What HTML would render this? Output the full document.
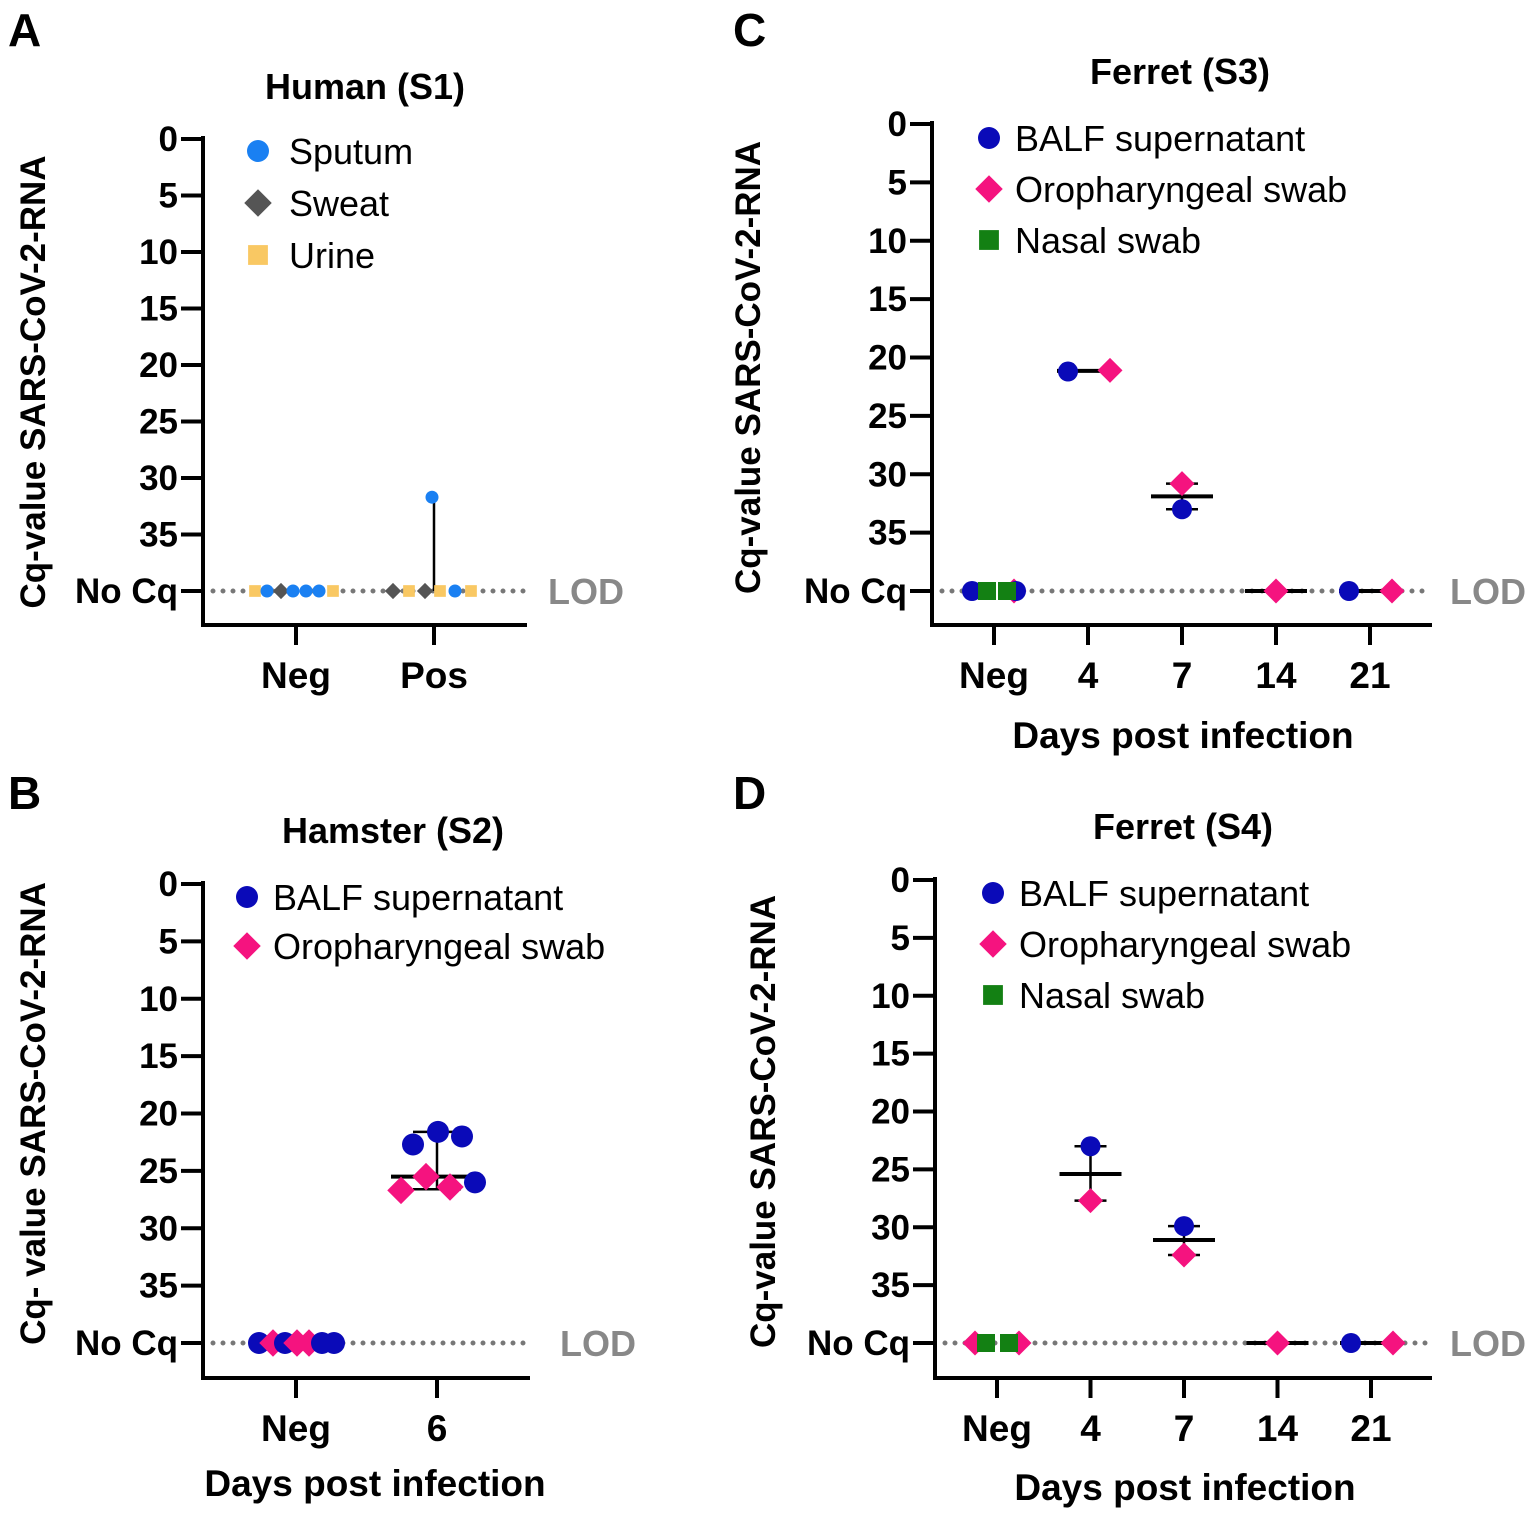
<!DOCTYPE html>
<html><head><meta charset="utf-8">
<style>
body{margin:0;background:#fff;}
svg{display:block;font-family:"Liberation Sans",Arial,sans-serif;}
.b{font-weight:bold;}
</style></head>
<body>
<svg id="fig" width="1535" height="1517" viewBox="0 0 1535 1517">
<text x="8" y="46" font-size="46" class="b">A</text>
<text x="8" y="809" font-size="46" class="b">B</text>
<text x="733" y="46" font-size="46" class="b">C</text>
<text x="733" y="809" font-size="46" class="b">D</text>
</svg>
<script>
// ---- data ----
const yTickLabels = ["0","5","10","15","20","25","30","35","No Cq"];
const yTickValues = [0,5,10,15,20,25,30,35,40];
// Panel A
const aCats = ["Neg","Pos"];
const aPtCat = [0,0,0,0,0,0,0, 1,1,1,1,1,1,1];
const aPtVal = [40,40,40,40,40,40,40, 40,40,40,40,40,40,31.7];
const aPtSer = ["urine","sputum","sweat","sputum","sputum","sputum","urine","sweat","urine","sweat","urine","sputum","urine","sputum"];
const aPtJit = [-41,-29,-15,-3,10,23,37, -41,-25,-9,6,21,37,-2];
const aSumCat = [1]; const aSumMid = [null]; const aSumLo = [31.7]; const aSumHi = [40];
// Panel B
const bCats = ["Neg","6"];
const bPtCat = [0,0,0,0,0,0,0, 1,1,1,1,1,1,1];
const bPtVal = [40,40,40,40,40,40,40, 22.7,21.6,22.0,26.0,26.7,25.5,26.4];
const bPtSer = ["balf","oro","balf","oro","oro","balf","balf","balf","balf","balf","balf","oro","oro","oro"];
const bPtJit = [-37,-23,-11,1,13,26,38, -24,1,25,38,-36,-11,13];
const bSumCat = [1]; const bSumMid = [25.5]; const bSumLo = [21.6]; const bSumHi = [26.6];
// Panel C
const cCats = ["Neg","4","7","14","21"];
const cPtCat = [0,0,0,0,0, 1,1, 2,2, 3, 4,4];
const cPtVal = [40,40,40,40,40, 21.2,21.1, 33.0,30.8, 40, 40,40];
const cPtSer = ["balf","oro","balf","nasal","nasal","balf","oro","balf","oro","oro","balf","oro"];
const cPtJit = [-22,20,22,-7,13, -20,22, 0,0, 0, -21,22];
const cSumCat = [1,2,3,4]; const cSumMid = [21.15,31.9,40,40]; const cSumLo = [null,30.8,null,null]; const cSumHi = [null,33.0,null,null];
// Panel D
const dCats = ["Neg","4","7","14","21"];
const dPtCat = [0,0,0,0, 1,1, 2,2, 3, 4,4];
const dPtVal = [40,40,40,40, 23.0,27.7, 29.9,32.4, 40, 40,40];
const dPtSer = ["oro","oro","nasal","nasal","balf","oro","balf","oro","oro","balf","oro"];
const dPtJit = [-22,22,-11,12, 0,0, 0,0, 0, -20,22];
const dSumCat = [1,2,3,4]; const dSumMid = [25.4,31.1,40,40]; const dSumLo = [23.0,29.9,null,null]; const dSumHi = [27.7,32.4,null,null];

const NS="http://www.w3.org/2000/svg";
const svg=document.getElementById('fig');
function mk(tag,attrs,parent){const e=document.createElementNS(NS,tag);for(const k in attrs)e.setAttribute(k,attrs[k]);(parent||svg).appendChild(e);return e;}
const colors={sputum:"#1a80f2",sweat:"#555555",urine:"#f9c863",balf:"#0a0ab8",oro:"#f5137f",nasal:"#138013"};
function marker(g,ser,x,y,r){
  let e;
  if(ser==="sputum"||ser==="balf"){e=mk('circle',{cx:x,cy:y,r:r,fill:colors[ser]},g);}
  else if(ser==="sweat"||ser==="oro"){const s=r*1.25;e=mk('polygon',{points:`${x},${y-s} ${x+s},${y} ${x},${y+s} ${x-s},${y}`,fill:colors[ser]},g);}
  else {e=mk('rect',{x:x-r*0.9,y:y-r*0.9,width:r*1.8,height:r*1.8,fill:colors[ser]},g);}
  return e;
}
function panel(p){
  const g=mk('g',{});
  
  
  const yS=v=>p.y0+v*(p.y40-p.y0)/40;
  const xS=i=>p.x0+i*p.step;
  const t=mk('text',{x:p.titleX,y:p.titleY,'font-size':36,'text-anchor':'middle','class':'b'},g);t.textContent=p.title;
  
  const yt=mk('text',{x:0,y:0,'font-size':35,'text-anchor':'middle','class':'b',transform:`translate(${p.ytX},${(p.y0+p.y40)/2+p.ytDy}) rotate(-90)`},g);yt.textContent=p.ytitle;
  
  const ya=mk('line',{x1:p.ax,y1:p.y0-3,x2:p.ax,y2:p.axY+2,stroke:'#000','stroke-width':4},g);
  
  const xa=mk('line',{x1:p.ax-2,y1:p.axY,x2:p.xEnd,y2:p.axY,stroke:'#000','stroke-width':4},g);
  
  yTickValues.forEach((v,i)=>{
    mk('line',{x1:p.ax-22,y1:yS(v),x2:p.ax,y2:yS(v),stroke:'#000','stroke-width':4},g);
    const tl=mk('text',{x:p.ax-25,y:yS(v)+12,'font-size':35,'text-anchor':'end','class':'b'},g);tl.textContent=yTickLabels[i];
    
  });
  p.cats.forEach((c,i)=>{
    mk('line',{x1:xS(i),y1:p.axY,x2:xS(i),y2:p.axY+20,stroke:'#000','stroke-width':4},g);
    const tl=mk('text',{x:xS(i),y:p.axY+63,'font-size':37,'text-anchor':'middle','class':'b'},g);tl.textContent=c;
    
  });
  if(p.xtitle){const xt=mk('text',{x:p.xtX,y:p.xtY,'font-size':37,'text-anchor':'middle','class':'b'},g);xt.textContent=p.xtitle;
    }
  const lod=mk('line',{x1:p.ax+10,y1:yS(40),x2:p.lodEnd,y2:yS(40),stroke:'#777','stroke-width':5,'stroke-linecap':'round','stroke-dasharray':'0 10'},g);
  
  const lt=mk('text',{x:p.lodX,y:yS(40)+13,'font-size':36,fill:'#888','class':'b'},g);lt.textContent='LOD';
  
  p.sCat.forEach((c,i)=>{
    const x=xS(c);
    if(p.sLo[i]!=null){
      mk('line',{x1:x,y1:yS(p.sLo[i]),x2:x,y2:yS(p.sHi[i]),stroke:'#000','stroke-width':2.5},g);
      if(p.caps){mk('line',{x1:x-p.capW,y1:yS(p.sLo[i]),x2:x+p.capW,y2:yS(p.sLo[i]),stroke:'#000','stroke-width':2.5},g);
        mk('line',{x1:x-p.capW,y1:yS(p.sHi[i]),x2:x+p.capW,y2:yS(p.sHi[i]),stroke:'#000','stroke-width':2.5},g);}
    }
    if(p.sMid[i]!=null){const m=mk('line',{x1:x-p.midW,y1:yS(p.sMid[i]),x2:x+p.midW,y2:yS(p.sMid[i]),stroke:'#000','stroke-width':4},g);
      }
  });
  p.pCat.forEach((c,i)=>{
    const e=marker(g,p.pSer[i],xS(c)+p.pJit[i],yS(p.pVal[i]),p.r);
    
    
  });
  p.leg.forEach((l,i)=>{
    const ly=p.legY+i*p.legDy;
    const e=marker(g,l[0],p.legX,ly,p.legR);
    
    const tx=mk('text',{x:p.legX+p.legTx,y:ly+13,'font-size':36},g);tx.textContent=l[1];
    
  });
}
panel({name:'panel-a-human',title:'Human (S1)',titleX:365,titleY:99,ytitle:'Cq-value SARS-CoV-2-RNA',ytX:45,ytDy:17,
  ax:203,y0:139,y40:591,axY:625,xEnd:527,x0:296,step:138,cats:aCats,lodEnd:527,lodX:548,
  pCat:aPtCat,pVal:aPtVal,pSer:aPtSer,pJit:aPtJit,sCat:aSumCat,sMid:aSumMid,sLo:aSumLo,sHi:aSumHi,caps:false,capW:0,midW:0,r:6.5,
  leg:[["sputum","Sputum"],["sweat","Sweat"],["urine","Urine"]],legX:258,legY:151,legDy:52,legR:11,legTx:31});
panel({name:'panel-b-hamster',title:'Hamster (S2)',titleX:393,titleY:843,ytitle:'Cq- value SARS-CoV-2-RNA',ytX:45,ytDy:0,
  ax:203,y0:884,y40:1343,axY:1378,xEnd:530,x0:296,step:141,cats:bCats,lodEnd:530,lodX:560,xtitle:'Days post infection',xtX:375,xtY:1496,
  pCat:bPtCat,pVal:bPtVal,pSer:bPtSer,pJit:bPtJit,sCat:bSumCat,sMid:bSumMid,sLo:bSumLo,sHi:bSumHi,caps:true,capW:24,midW:46,r:11,
  leg:[["balf","BALF supernatant"],["oro","Oropharyngeal swab"]],legX:247,legY:897,legDy:49,legR:11,legTx:26});
panel({name:'panel-c-ferret-s3',title:'Ferret (S3)',titleX:1180,titleY:84,ytitle:'Cq-value SARS-CoV-2-RNA',ytX:760,ytDy:10,
  ax:932,y0:124,y40:591,axY:625,xEnd:1432,x0:994,step:94,cats:cCats,lodEnd:1432,lodX:1450,xtitle:'Days post infection',xtX:1183,xtY:748,
  pCat:cPtCat,pVal:cPtVal,pSer:cPtSer,pJit:cPtJit,sCat:cSumCat,sMid:cSumMid,sLo:cSumLo,sHi:cSumHi,caps:true,capW:16,midW:31,r:10,
  leg:[["balf","BALF supernatant"],["oro","Oropharyngeal swab"],["nasal","Nasal swab"]],legX:989,legY:138,legDy:51,legR:11,legTx:26});
panel({name:'panel-d-ferret-s4',title:'Ferret (S4)',titleX:1183,titleY:839,ytitle:'Cq-value SARS-CoV-2-RNA',ytX:775,ytDy:10,
  ax:935,y0:880,y40:1343,axY:1378,xEnd:1432,x0:997,step:93.5,cats:dCats,lodEnd:1432,lodX:1450,xtitle:'Days post infection',xtX:1185,xtY:1500,
  pCat:dPtCat,pVal:dPtVal,pSer:dPtSer,pJit:dPtJit,sCat:dSumCat,sMid:dSumMid,sLo:dSumLo,sHi:dSumHi,caps:true,capW:16,midW:31,r:10,
  leg:[["balf","BALF supernatant"],["oro","Oropharyngeal swab"],["nasal","Nasal swab"]],legX:993,legY:893,legDy:51,legR:11,legTx:26});
</script>
</body></html>
